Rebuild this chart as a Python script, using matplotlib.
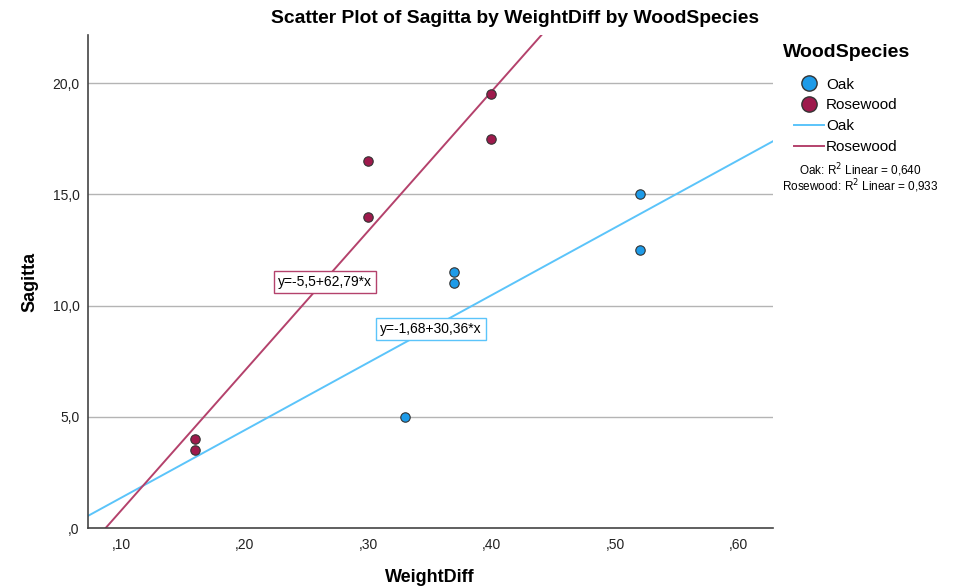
import matplotlib
matplotlib.use("Agg")
import matplotlib.pyplot as plt
from matplotlib.lines import Line2D

plt.rcParams["font.family"] = ["Liberation Sans", "DejaVu Sans"]

# data
oak_x = [0.33, 0.37, 0.37, 0.52, 0.52]
oak_y = [5.0, 11.0, 11.5, 12.5, 15.0]
rose_x = [0.16, 0.16, 0.30, 0.30, 0.40, 0.40]
rose_y = [3.5, 4.0, 14.0, 16.5, 17.5, 19.5]

# fit lines as printed on the chart
oak_fit = (-1.68, 30.36)
rose_fit = (-5.5, 62.79)
oak_r2 = "0,640"
rose_r2 = "0,933"

xticks = [0.1, 0.2, 0.3, 0.4, 0.5, 0.6]
xtick_labels = [",10", ",20", ",30", ",40", ",50", ",60"]
yticks = [0, 5, 10, 15, 20]
ytick_labels = [",0", "5,0", "10,0", "15,0", "20,0"]

oak_pt = "#1E9BE8"
rose_pt = "#9E1A4C"
oak_line = "#5BC4FA"
rose_line = "#B4426C"

fig = plt.figure(figsize=(9.68, 5.88), dpi=100)
ax = fig.add_axes([0.0909, 0.102, 0.7077, 0.8385])

xmin, xmax = 0.0733, 0.628
ymin, ymax = 0.0, 22.16
ax.set_xlim(xmin, xmax)
ax.set_ylim(ymin, ymax)

for y in yticks[1:]:
    ax.axhline(y, color="#b4b4b4", lw=1.0, zorder=0)

for (b0, b1), c in [(oak_fit, oak_line), (rose_fit, rose_line)]:
    ax.plot([xmin, xmax], [b0 + b1 * xmin, b0 + b1 * xmax], color=c, lw=1.4, zorder=2)

ax.scatter(oak_x, oak_y, s=46, c=oak_pt, edgecolors="#333333", linewidths=0.8, zorder=3)
ax.scatter(rose_x, rose_y, s=46, c=rose_pt, edgecolors="#333333", linewidths=0.8, zorder=3)

ax.text(0.2653, 11.06, "y=-5,5+62,79*x", ha="center", va="center", fontsize=10,
        bbox=dict(boxstyle="square,pad=0.3", fc="white", ec=rose_line, lw=1.0), zorder=4)
ax.text(0.351, 8.94, "y=-1,68+30,36*x", ha="center", va="center", fontsize=10,
        bbox=dict(boxstyle="square,pad=0.3", fc="white", ec=oak_line, lw=1.0), zorder=4)

ax.set_xticks(xticks)
ax.set_xticklabels(xtick_labels)
ax.set_yticks(yticks)
ax.set_yticklabels(ytick_labels)
ax.tick_params(length=0, labelsize=10, colors="#222222", pad=6)
ax.tick_params(axis="x", pad=7)
for s in ["top", "right"]:
    ax.spines[s].set_visible(False)
for s in ["left", "bottom"]:
    ax.spines[s].set_color("#444444")
    ax.spines[s].set_linewidth(1.2)

fig.text(0.444, 0.018, "WeightDiff", ha="center", va="center", fontsize=13, fontweight="bold")
fig.text(0.031, 0.52, "Sagitta", ha="center", va="center", rotation=90, fontsize=13, fontweight="bold")
fig.text(0.532, 0.969, "Scatter Plot of Sagitta by WeightDiff by WoodSpecies",
         ha="center", va="center", fontsize=13.9, fontweight="bold")

# legend
fig.text(0.809, 0.91, "WoodSpecies", ha="left", va="center", fontsize=14, fontweight="bold")
handles = [
    Line2D([], [], ls="", marker="o", ms=11, mfc=oak_pt, mec="#333333", mew=1.0),
    Line2D([], [], ls="", marker="o", ms=11, mfc=rose_pt, mec="#333333", mew=1.0),
    Line2D([], [], color=oak_line, lw=1.4),
    Line2D([], [], color=rose_line, lw=1.4),
]
fig.legend(handles, ["Oak", "Rosewood", "Oak", "Rosewood"],
           loc="upper left", bbox_to_anchor=(0.82, 0.868), frameon=False,
           fontsize=11, handlelength=2.0, handletextpad=0.1,
           labelspacing=0.45, borderpad=0, borderaxespad=0)

fig.text(0.889, 0.711, "Oak: R$^2$ Linear = " + oak_r2, ha="center", va="center", fontsize=8.5)
fig.text(0.889, 0.683, "Rosewood: R$^2$ Linear = " + rose_r2, ha="center", va="center", fontsize=8.5)

fig.savefig("out.png", dpi=100)
